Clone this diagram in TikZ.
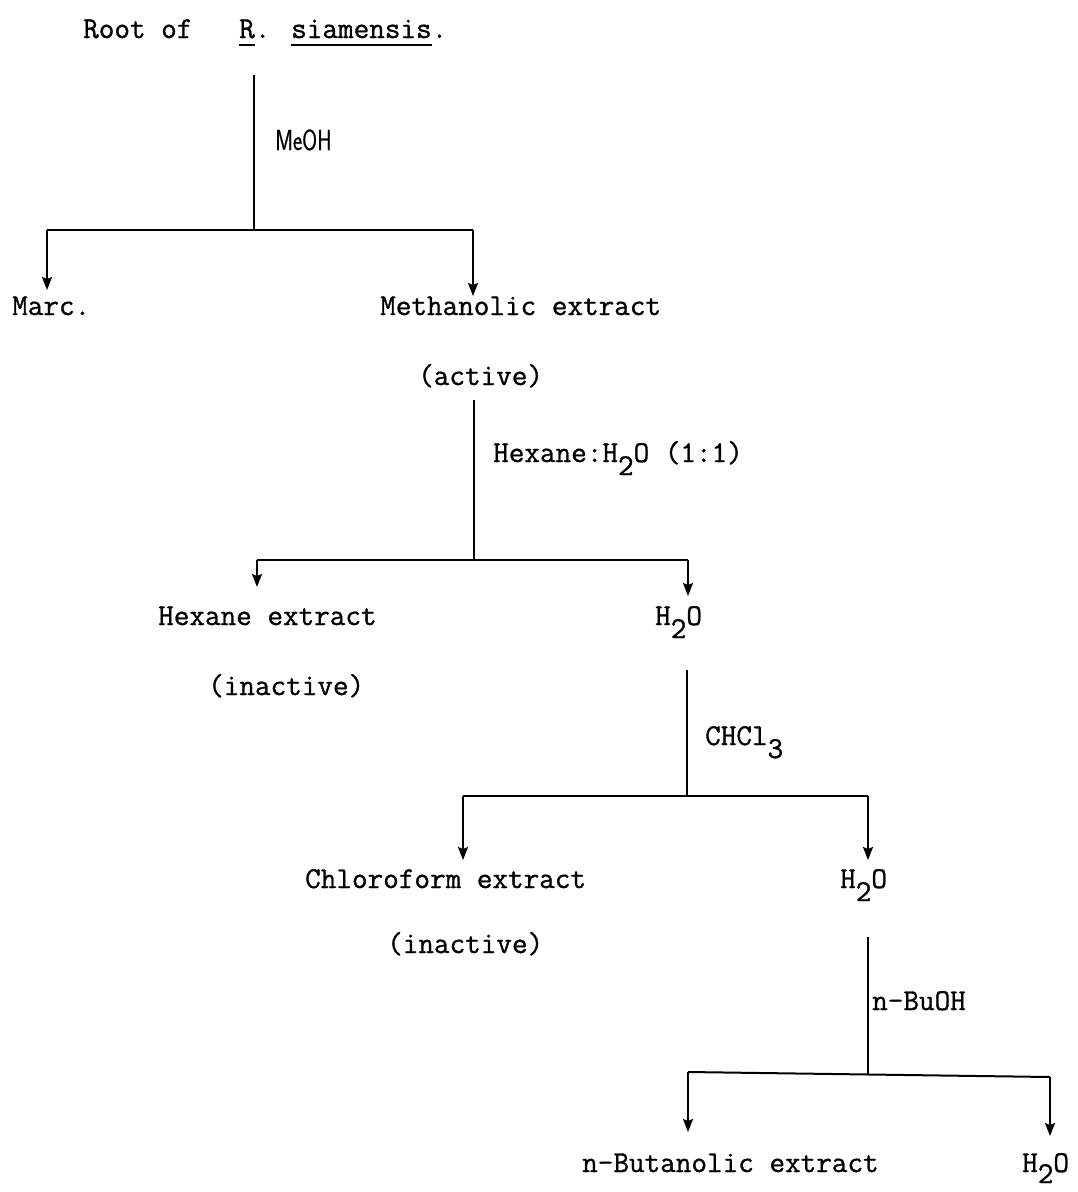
\documentclass[tikz,border=0pt]{standalone}
\usepackage{fontspec}
\newfontfamily\tw[FakeBold=1.0]{Latin Modern Mono}
\newfontfamily\sw[FakeBold=0.8]{Latin Modern Sans}
\usetikzlibrary{arrows.meta}
\newcommand{\myul}[1]{\setbox0\hbox{#1}\rlap{\rule[-8pt]{\wd0}{1.8pt}}\box0}
\newcommand{\sub}[1]{\raisebox{-13pt}{#1}}
\begin{document}
\begin{tikzpicture}[x=1pt,y=-1pt,
  txt/.style={font=\fontsize{30.3}{36}\selectfont\tw, inner sep=0pt, anchor=base west},
  sans/.style={font=\fontsize{29}{33}\selectfont\sw, inner sep=0pt, anchor=base west},
  drop/.style={line width=1.4pt},
  bar/.style={line width=2pt},
  arr/.style={line width=1.6pt, -{Stealth[length=13pt,width=10pt,inset=2pt]}}]
\useasboundingbox (0,0) rectangle (1078,1192);
% texts
\node[txt] (root) at (83,38) {Root of\ \ \ \myul{R}. \myul{siamensis}.};
\node[sans] (meoh) at (275,150) {\scalebox{0.75}[1]{MeOH}};
\node[txt] (marc) at (12,315) {Marc.};
\node[txt] (meth) at (380,315) {Methanolic extract};
\node[txt] (act) at (418,385) {(active)};
\node[txt] (hexlbl) at (493,462) {Hexane:H\sub{2}O (1:1)};
\node[txt] (hex) at (158,625) {Hexane extract};
\node[txt] (wat1) at (655,625) {H\sub{2}O};
\node[txt] (inact1) at (208,695) {(inactive)};
\node[txt] (chcl) at (705,745) {CHCl\sub{3}};
\node[txt] (chl) at (305,888) {Chloroform extract};
\node[txt] (wat2) at (840,888) {H\sub{2}O};
\node[txt] (inact2) at (387,953) {(inactive)};
\node[txt] (buoh) at (872,1010) {n-BuOH};
\node[txt] (but) at (582,1172) {n-Butanolic extract};
\node[txt] (wat3) at (1022,1172) {H\raisebox{-11pt}{2}O};
% junctions
\coordinate (s1) at (254,75);   \coordinate (j1) at (254,230);
\coordinate (l1) at (47,230);   \coordinate (r1) at (473,230);
\coordinate (tl1) at (47,290);  \coordinate (tr1) at (473,296);
\coordinate (s2) at (474,400);  \coordinate (j2) at (474,560);
\coordinate (l2) at (257,560);  \coordinate (r2) at (688,560);
\coordinate (tl2) at (257,587); \coordinate (tr2) at (688,596);
\coordinate (s3) at (687,670);  \coordinate (j3) at (687,796);
\coordinate (l3) at (463,796);  \coordinate (r3) at (868,796);
\coordinate (tl3) at (463,860); \coordinate (tr3) at (868,860);
\coordinate (s4) at (868,937);  \coordinate (j4) at (868,1074);
\coordinate (l4) at (688,1072); \coordinate (r4) at (1050,1077);
\coordinate (tl4) at (688,1132);\coordinate (tr4) at (1050,1136);
% connectors
\draw[drop] (s1) -- (j1);
\draw[bar] (l1) -- (r1);
\draw[arr] (l1) -- (tl1);
\draw[arr] (r1) -- (tr1);
\draw[drop] (s2) -- (j2);
\draw[bar] (l2) -- (r2);
\draw[arr] (l2) -- (tl2);
\draw[arr] (r2) -- (tr2);
\draw[drop] (s3) -- (j3);
\draw[bar] (l3) -- (r3);
\draw[arr] (l3) -- (tl3);
\draw[arr] (r3) -- (tr3);
\draw[drop] (s4) -- (j4);
\draw[bar] (l4) -- (r4);
\draw[arr] (l4) -- (tl4);
\draw[arr] (r4) -- (tr4);
\end{tikzpicture}
\end{document}
